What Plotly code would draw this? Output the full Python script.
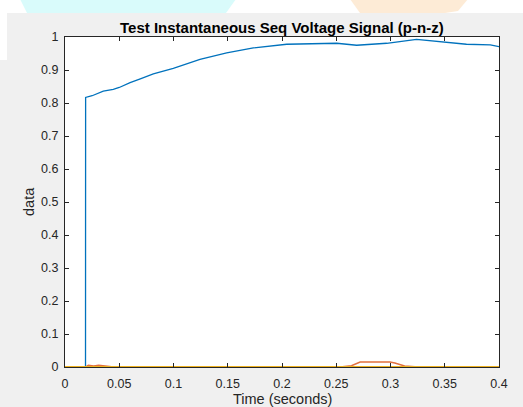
import plotly.graph_objects as go

# ---- data ----
t_pos = [0, 0.0189, 0.019, 0.025, 0.0353, 0.0445, 0.05, 0.06, 0.07, 0.0814, 0.0998,
         0.1244, 0.149, 0.1736, 0.2043, 0.225, 0.2504, 0.2688, 0.2965, 0.324,
         0.352, 0.370, 0.392, 0.4]
v_pos = [0, 0, 0.817, 0.822, 0.836, 0.841, 0.847, 0.862, 0.874, 0.888, 0.905,
         0.932, 0.952, 0.967, 0.978, 0.980, 0.981, 0.975, 0.981, 0.993,
         0.985, 0.978, 0.976, 0.971]

t_neg = [0, 0.0192, 0.0215, 0.0265, 0.031, 0.0355, 0.041, 0.045,
         0.2535, 0.264, 0.272, 0.2995, 0.304, 0.313, 0.3226, 0.4]
v_neg = [0, 0, 0.005, 0.003, 0.005, 0.003, 0.001, 0,
         0, 0.004, 0.015, 0.015, 0.012, 0.003, 0.001, 0]

t_zero = [0, 0.4]
v_zero = [0, 0]

x_tickvals = [0, 0.05, 0.1, 0.15, 0.2, 0.25, 0.3, 0.35, 0.4]
x_ticktext = ["0", "0.05", "0.1", "0.15", "0.2", "0.25", "0.3", "0.35", "0.4"]
y_tickvals = [0, 0.1, 0.2, 0.3, 0.4, 0.5, 0.6, 0.7, 0.8, 0.9, 1]
y_ticktext = ["0", "0.1", "0.2", "0.3", "0.4", "0.5", "0.6", "0.7", "0.8", "0.9", "1"]

title_text = "Test Instantaneous Seq Voltage Signal (p-n-z)"
xlabel_text = "Time (seconds)"
ylabel_text = "data"

# ---- layout geometry (pixels) ----
W, H = 523, 407
L, R, T, B = 65, 499, 37, 367


def px_x(p):
    return (p - L) / (R - L)


def px_y(p):
    return (B - p) / (B - T)


FONT = "Liberation Sans, Arial, Helvetica, sans-serif"
AX = "#262626"

fig = go.Figure()
fig.add_trace(go.Scatter(x=t_pos, y=v_pos, mode="lines",
                         line=dict(color="#0072BD", width=1.3), showlegend=False))
fig.add_trace(go.Scatter(x=t_neg, y=v_neg, mode="lines",
                         line=dict(color="#E2703E", width=1.5), showlegend=False))
fig.add_trace(go.Scatter(x=t_zero, y=v_zero, mode="lines",
                         line=dict(color="#EDB120", width=2.2), showlegend=False))

axis_common = dict(showline=True, mirror="ticks", linecolor=AX, linewidth=1,
                   ticks="inside", ticklen=4, tickcolor=AX, tickwidth=1,
                   showgrid=False, zeroline=False,
                   tickfont=dict(family=FONT, size=12.5, color=AX))

fig.update_xaxes(range=[0, 0.4], tickvals=x_tickvals, ticktext=x_ticktext,
                 ticklabelstandoff=5, **axis_common)
fig.update_yaxes(range=[0, 1], tickvals=y_tickvals, ticktext=y_ticktext,
                 ticklabelstandoff=3, **axis_common)

shapes = [
    # white band at top and left of the screenshot
    dict(type="rect", xref="paper", yref="paper", x0=px_x(-2), x1=px_x(W + 2),
         y0=px_y(13), y1=px_y(-2), fillcolor="white", line_width=0, layer="below"),
    dict(type="rect", xref="paper", yref="paper", x0=px_x(-2), x1=px_x(7),
         y0=px_y(60), y1=px_y(-2), fillcolor="white", line_width=0, layer="below"),
    # faint watermark blobs
    dict(type="path", xref="paper", yref="paper",
         path=f"M {px_x(20)},{px_y(-1)} L {px_x(236)},{px_y(-1)} L {px_x(226)},{px_y(13)} "
              f"L {px_x(27)},{px_y(13)} Z",
         fillcolor="#d9fbfb", line_width=0, layer="below"),
    dict(type="path", xref="paper", yref="paper",
         path=f"M {px_x(350)},{px_y(-1)} L {px_x(468)},{px_y(-1)} L {px_x(458)},{px_y(11)} "
              f"L {px_x(445)},{px_y(13)} L {px_x(360)},{px_y(13)} Z",
         fillcolor="#fdebd6", line_width=0, layer="below"),
]

annotations = [
    dict(text=f"<b>{title_text}</b>", xref="paper", yref="paper", x=0.5, y=px_y(27),
         showarrow=False, xanchor="center", yanchor="middle",
         font=dict(family=FONT, size=15, color="#000000")),
    dict(text=xlabel_text, xref="paper", yref="paper", x=0.5, y=px_y(399.5),
         showarrow=False, xanchor="center", yanchor="middle",
         font=dict(family=FONT, size=14.5, color=AX)),
    dict(text=ylabel_text, xref="paper", yref="paper", x=px_x(29), y=0.5,
         showarrow=False, xanchor="center", yanchor="middle", textangle=-90,
         font=dict(family=FONT, size=14.5, color=AX)),
]

fig.update_layout(width=W, height=H,
                  margin=dict(l=L, r=W - R, t=T, b=H - B, pad=0, autoexpand=False),
                  paper_bgcolor="#f0f0f0", plot_bgcolor="white",
                  shapes=shapes, annotations=annotations, showlegend=False)

fig.write_html("out.html", config={"displayModeBar": False},
               post_script="document.body.style.margin='0';"
                           "document.body.style.overflow='hidden';")
